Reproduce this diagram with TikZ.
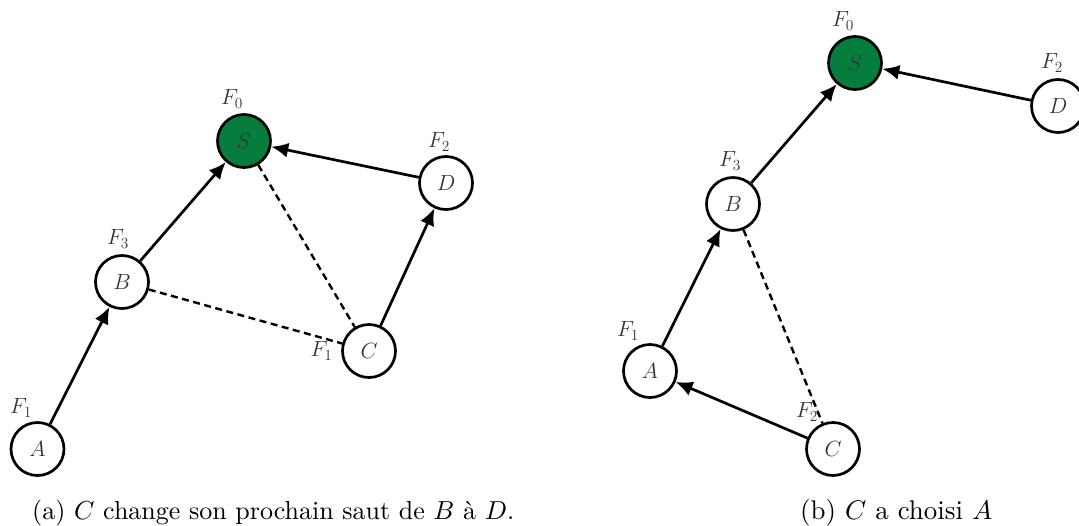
\RequirePackage{fix-cm}
\documentclass[tikz,border=0pt]{standalone}
\usepackage{graphicx}
\usetikzlibrary{arrows.meta}
\definecolor{sgreen}{HTML}{067D3C}
\begin{document}
\begin{tikzpicture}[x=1pt,y=-1pt,
  vnode/.style={circle,draw,line width=2.7pt,minimum size=53pt,inner sep=0pt,fill=white,font=\fontsize{22}{26}\selectfont,text=black!80},
  lbl/.style={font=\fontsize{22}{26}\selectfont,text=black!80,inner sep=0pt},
  arr/.style={line width=2.7pt,-{Latex[length=17pt,width=15pt]}},
  dsh/.style={line width=2.4pt,dash pattern=on 7pt off 4.5pt},
  captext/.style={anchor=base west,inner sep=0pt}]
\useasboundingbox (0,0) rectangle (1079,525);
% ---------- left picture ----------
\node[vnode,fill=sgreen] (S1) at (244,141) {$S$};
\node[vnode] (A1) at (37.5,449) {$A$};
\node[vnode] (B1) at (122,282) {$B$};
\node[vnode] (C1) at (369,351) {$C$};
\node[vnode] (D1) at (446,183) {$D$};
\node[lbl] (fS1) at (232,99) {$F_0$};
\node[lbl] (fD1) at (439,142) {$F_2$};
\node[lbl] (fB1) at (118,239) {$F_3$};
\node[lbl] (fC1) at (321.5,351) {$F_1$};
\node[lbl] (fA1) at (21,408) {$F_1$};
\draw[arr] (A1) -- (B1);
\draw[arr] (B1) -- (S1);
\draw[arr] (D1) -- (S1);
\draw[arr] (C1) -- (D1);
\draw[dsh] (S1) -- (C1);
\draw[dsh] (B1) -- (C1);
% ---------- right picture ----------
\node[vnode,fill=sgreen] (S2) at (855,63) {$S$};
\node[vnode] (D2) at (1058,106) {$D$};
\node[vnode] (B2) at (733,204) {$B$};
\node[vnode] (A2) at (650,371) {$A$};
\node[vnode] (C2) at (833,449) {$C$};
\node[lbl] (fS2) at (843,21) {$F_0$};
\node[lbl] (fD2) at (1052,63) {$F_2$};
\node[lbl] (fB2) at (730,161) {$F_3$};
\node[lbl] (fA2) at (628,331) {$F_1$};
\node[lbl] (fC2) at (807,412) {$F_2$};
\draw[arr] (B2) -- (S2);
\draw[arr] (D2) -- (S2);
\draw[arr] (A2) -- (B2);
\draw[arr] (C2) -- (A2);
\draw[dsh] (B2) -- (C2);
% ---------- captions ----------
\node[captext] (capa) at (32,519) {\resizebox{482pt}{!}{(a) $C$ change son prochain saut de $B$ à $D$.}};
\node[captext] (capb) at (800,519) {\resizebox{192pt}{!}{(b) $C$ a choisi $A$}};
\end{tikzpicture}
\end{document}
